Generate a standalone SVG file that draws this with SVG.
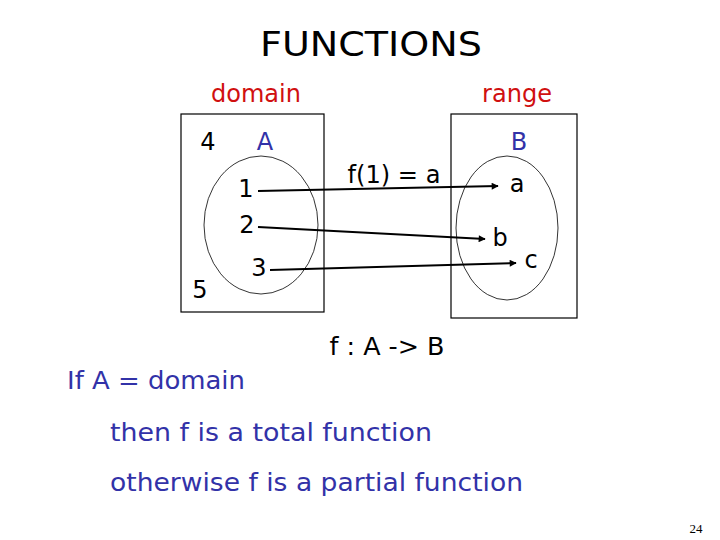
<svg xmlns="http://www.w3.org/2000/svg" width="720" height="540" viewBox="0 0 720 540">
<defs>
<style>
text{font-family:"DejaVu Sans","Noto Sans",sans-serif;}
.k{fill:#000;font-size:24px;}
.red{fill:#d01010;font-size:25px;}
.blue{fill:#3232a8;font-size:24px;}
.box{fill:none;stroke:#000;stroke-width:1.2;}
.ell{fill:none;stroke:#000;stroke-width:0.8;}
.ln{stroke:#000;stroke-width:2;fill:none;}
</style>
<marker id="ah" viewBox="0 0 10 10" refX="9" refY="5" markerWidth="8" markerHeight="7" orient="auto" markerUnits="userSpaceOnUse">
<path d="M0,0 L10,5 L0,10 z" fill="#000"/>
</marker>
</defs>
<rect width="720" height="540" fill="#fff"/>
<text x="371" y="56" text-anchor="middle" class="k" style="font-size:33px" textLength="222" lengthAdjust="spacingAndGlyphs">FUNCTIONS</text>
<text x="256" y="102" text-anchor="middle" class="red" textLength="90" lengthAdjust="spacingAndGlyphs">domain</text>
<text x="517" y="102" text-anchor="middle" class="red" textLength="70" lengthAdjust="spacingAndGlyphs">range</text>
<g id="domain">
<rect class="box" x="181" y="114" width="143" height="198"/>
<ellipse class="ell" cx="261" cy="225" rx="57" ry="69"/>
<text x="208" y="150" text-anchor="middle" class="k">4</text>
<text x="265" y="150" text-anchor="middle" class="blue">A</text>
<text x="200" y="298" text-anchor="middle" class="k">5</text>
<text x="246" y="197" text-anchor="middle" class="k">1</text>
<text x="247" y="233" text-anchor="middle" class="k">2</text>
<text x="259" y="276" text-anchor="middle" class="k">3</text>
</g>
<g id="range">
<rect class="box" x="451" y="114" width="126" height="204"/>
<ellipse class="ell" cx="507" cy="228" rx="51" ry="72"/>
<text x="519" y="150" text-anchor="middle" class="blue">B</text>
<text x="517" y="192" text-anchor="middle" class="k">a</text>
<text x="500" y="246" text-anchor="middle" class="k">b</text>
<text x="531" y="268" text-anchor="middle" class="k">c</text>
</g>
<g id="connectors">
<line class="ln" x1="258" y1="191" x2="498" y2="186" marker-end="url(#ah)"/>
<line class="ln" x1="258" y1="227" x2="485" y2="239" marker-end="url(#ah)"/>
<line class="ln" x1="270" y1="270" x2="516" y2="263" marker-end="url(#ah)"/>
</g>
<text x="394" y="183" text-anchor="middle" class="k" textLength="93" lengthAdjust="spacingAndGlyphs">f(1) = a</text>
<text x="387" y="355" text-anchor="middle" class="k" textLength="115" lengthAdjust="spacingAndGlyphs">f : A -&gt; B</text>
<text x="67" y="389" class="blue" textLength="178" lengthAdjust="spacingAndGlyphs">If A = domain</text>
<text x="110" y="441" class="blue" textLength="322" lengthAdjust="spacingAndGlyphs">then f is a total function</text>
<text x="110" y="491" class="blue" textLength="413" lengthAdjust="spacingAndGlyphs">otherwise f is a partial function</text>
<text x="696" y="533" text-anchor="middle" style="font-family:'Liberation Serif',serif;font-size:13px" fill="#000">24</text>
</svg>
